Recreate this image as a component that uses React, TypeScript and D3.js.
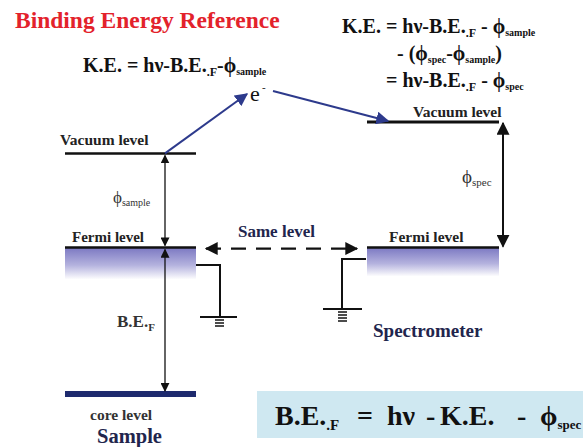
import React from "react";
import * as d3 from "d3";

// Energy levels (eV, relative to the Fermi level)
const levelNames = ["core level", "Fermi level", "Vacuum level (sample)", "Vacuum level (spec)"];
const levelEnergies = [-7, 0, 4.5, 6.0];
const sides = ["Sample", "Spectrometer"];
const titleText = "Binding Energy Reference";

const W = 588;
const H = 447;
const FONT = "Liberation Serif";

function T(props: any) {
  const { children, ...rest } = props;
  return (
    <text fontFamily={FONT} style={{ fontFamily: FONT, whiteSpace: "pre" }} {...rest}>
      {children}
    </text>
  );
}

export default function App() {
  const y = d3.scaleLinear().domain([-7, 6]).range([394, 122]);
  const [eCore, eFermi, eVacS, eVacSp] = levelEnergies;
  const yCore = y(eCore);
  const yF = y(eFermi);
  const yVS = y(eVacS);
  const yVSp = y(eVacSp);

  const sampleX = [65, 196];
  const specX = [367, 499];
  const xArrS = 165;
  const xArrSp = 503;

  const sub = (t: string, fs: number, dy = 4) => (
    <tspan fontSize={fs} dy={dy}>{t}</tspan>
  );

  const blue = "#2d3a8c";
  const navy = "#22254d";

  return (
    <svg width={W} height={H} style={{ position: "absolute", left: 0, top: 0, background: "#fff" }}>
      <defs>
        <linearGradient id="band" x1="0" y1="0" x2="0" y2="1">
          <stop offset="0%" stopColor="#7b78c2" />
          <stop offset="55%" stopColor="#b4b2de" />
          <stop offset="100%" stopColor="#ffffff" />
        </linearGradient>
        <marker id="blk" viewBox="0 0 10 10" refX="9" refY="5" markerWidth="9" markerHeight="9"
          markerUnits="userSpaceOnUse" orient="auto-start-reverse">
          <path d="M0,0 L10,5 L0,10 z" fill="#111" />
        </marker>
        <marker id="blkBig" viewBox="0 0 10 10" refX="9" refY="5" markerWidth="13" markerHeight="13"
          markerUnits="userSpaceOnUse" orient="auto-start-reverse">
          <path d="M0,0 L10,5 L0,10 z" fill="#111" />
        </marker>
        <marker id="blu" viewBox="0 0 10 10" refX="9" refY="5" markerWidth="13" markerHeight="13"
          markerUnits="userSpaceOnUse" orient="auto">
          <path d="M0,0 L10,5 L0,10 z" fill={blue} />
        </marker>
      </defs>

      {/* Title */}
      <T x={15} y={28} fill="#e3222b" fontSize={23.5} fontWeight="bold">{titleText}</T>

      {/* Left KE formula */}
      <T x={83} y={72} fontSize={20} fontWeight="bold" fill="#111">
        K.E. = hν-B.E.{sub(".F", 12, 4)}<tspan dy={-4}>-ϕ</tspan>{sub("sample", 10, 3)}
      </T>

      {/* Right formula block */}
      <T x={342} y={33} fontSize={20} fontWeight="bold" fill="#111">
        K.E. = hν-B.E.{sub(".F", 12, 4)}<tspan dy={-4}> - ϕ</tspan>{sub("sample", 10, 3)}
      </T>
      <T x={397} y={60} fontSize={20} fontWeight="bold" fill="#111">
        - (ϕ{sub("spec", 10, 3)}<tspan dy={-3}>-ϕ</tspan>{sub("sample", 10, 3)}<tspan dy={-3}>)</tspan>
      </T>
      <T x={386} y={87} fontSize={20} fontWeight="bold" fill="#111">
        = hν-B.E.{sub(".F", 12, 4)}<tspan dy={-4}> - ϕ</tspan>{sub("spec", 10, 3)}
      </T>

      {/* Electron */}
      <T x={250} y={101} fontSize={22} fill="#111">e</T>
      <T x={262} y={91} fontSize={11} fill="#111">-</T>

      {/* Bands */}
      <rect x={sampleX[0]} y={yF} width={sampleX[1] - sampleX[0]} height={32} fill="url(#band)" />
      <rect x={specX[0]} y={yF} width={specX[1] - specX[0]} height={29} fill="url(#band)" />

      {/* Level lines */}
      <line x1={sampleX[0]} x2={sampleX[1]} y1={yVS} y2={yVS} stroke="#111" strokeWidth={2.5} />
      <line x1={sampleX[0]} x2={sampleX[1]} y1={yF} y2={yF} stroke="#111" strokeWidth={2.5} />
      <line x1={sampleX[0]} x2={sampleX[1]} y1={yCore} y2={yCore} stroke="#1e2a6e" strokeWidth={6} />
      <line x1={specX[0]} x2={specX[1]} y1={yVSp} y2={yVSp} stroke="#111" strokeWidth={3} />
      <line x1={specX[0]} x2={specX[1]} y1={yF} y2={yF} stroke="#111" strokeWidth={2.5} />

      {/* Level labels */}
      <T x={60} y={145} fontSize={15.5} fontWeight="bold" fill="#222">{levelNames[2].replace(" (sample)", "")}</T>
      <T x={72} y={242} fontSize={15} fontWeight="bold" fill="#222">{levelNames[1]}</T>
      <T x={413} y={117} fontSize={15.5} fontWeight="bold" fill="#222">{levelNames[3].replace(" (spec)", "")}</T>
      <T x={389} y={242} fontSize={15.5} fontWeight="bold" fill="#222">{levelNames[1]}</T>
      <T x={90} y={420} fontSize={15.5} fontWeight="bold" fill="#333">{levelNames[0]}</T>

      {/* Side labels */}
      <T x={97} y={443} fontSize={20.5} fontWeight="bold" fill={navy}>{sides[0]}</T>
      <T x={373} y={337} fontSize={19} fontWeight="bold" fill={navy}>{sides[1]}</T>

      {/* phi sample arrow */}
      <line x1={xArrS} x2={xArrS} y1={yVS + 2} y2={yF - 2} stroke="#111" strokeWidth={1.3}
        markerStart="url(#blk)" markerEnd="url(#blk)" />
      <T x={113} y={203} fontSize={17} fill="#333">ϕ{sub("sample", 10, 3)}</T>

      {/* B.E. arrow */}
      <line x1={xArrS} x2={xArrS} y1={yF + 2} y2={yCore - 3} stroke="#111" strokeWidth={1.3}
        markerStart="url(#blk)" markerEnd="url(#blk)" />
      <T x={117} y={327} fontSize={17} fontWeight="bold" fill="#333">B.E.{sub("F", 11, 4)}</T>

      {/* phi spec arrow */}
      <line x1={xArrSp} x2={xArrSp} y1={yVSp + 1} y2={yF - 1} stroke="#111" strokeWidth={2}
        markerStart="url(#blkBig)" markerEnd="url(#blkBig)" />
      <T x={462} y={183} fontSize={19} fill="#333">ϕ{sub("spec", 11, 3)}</T>

      {/* Same level dashed arrow */}
      <line x1={206} x2={357} y1={yF + 1} y2={yF + 1} stroke="#111" strokeWidth={2.2}
        strokeDasharray="15,10" markerStart="url(#blkBig)" markerEnd="url(#blkBig)" />
      <T x={238} y={237} fontSize={17} fontWeight="bold" fill={navy}>Same level</T>

      {/* Electron path */}
      <line x1={xArrS} y1={yVS} x2={247} y2={94} stroke={blue} strokeWidth={2} markerEnd="url(#blu)" />
      <line x1={273} y1={91} x2={388} y2={yVSp - 1} stroke={blue} strokeWidth={2} markerEnd="url(#blu)" />

      {/* Grounds */}
      <polyline points={`196,265 220,265 220,317`} fill="none" stroke="#111" strokeWidth={2} />
      <line x1={200} x2={237} y1={317} y2={317} stroke="#111" strokeWidth={2} />
      {[320, 323, 326].map((yy) => (
        <line key={yy} x1={215} x2={224} y1={yy} y2={yy} stroke="#111" strokeWidth={1.5} />
      ))}
      <polyline points={`366,259 342,259 342,309`} fill="none" stroke="#111" strokeWidth={2} />
      <line x1={323} x2={362} y1={309} y2={309} stroke="#111" strokeWidth={2} />
      {[312, 315, 318, 321].map((yy) => (
        <line key={yy} x1={338} x2={347} y1={yy} y2={yy} stroke="#111" strokeWidth={1.5} />
      ))}

      {/* Result box */}
      <rect x={257} y={391} width={326} height={47} fill="#cfe8f1" />
      <T x={275} y={425} fontSize={28} fontWeight="bold" fill="#111">B.E.{sub(".F", 15, 5)}</T>
      <T x={357} y={425} fontSize={28} fontWeight="bold" fill="#111">=</T>
      <T x={387} y={425} fontSize={28} fontWeight="bold" fill="#111">hν</T>
      <T x={426} y={425} fontSize={28} fontWeight="bold" fill="#111">-</T>
      <T x={440} y={425} fontSize={28} fontWeight="bold" fill="#111">K.E.</T>
      <T x={517} y={425} fontSize={28} fontWeight="bold" fill="#111">-</T>
      <T x={540} y={425} fontSize={28} fontWeight="bold" fill="#111">ϕ{sub("spec", 13, 4)}</T>
    </svg>
  );
}
